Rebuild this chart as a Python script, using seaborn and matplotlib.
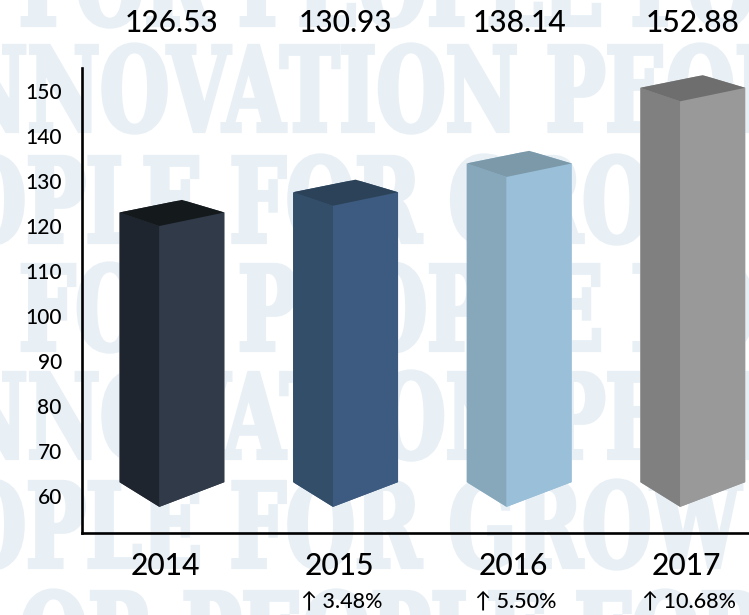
import pandas as pd
import matplotlib
matplotlib.use("Agg")
import matplotlib.pyplot as plt
import seaborn as sns
from matplotlib.patches import Polygon
from matplotlib.patheffects import AbstractPathEffect
from matplotlib.transforms import Affine2D

# values as printed above the bars, and bar heights
years = ["2014", "2015", "2016", "2017"]
printed_values = [126.53, 130.93, 138.14, 152.88]
bar_heights = [125.7, 130.2, 136.6, 153.4]
growth_labels = ["", "↑ 3.48%", "↑ 5.50%", "↑ 10.68%"]
y_ticks = [60, 70, 80, 90, 100, 110, 120, 130, 140, 150]

right_colors = ["#313a48", "#3d5b80", "#99bfd9", "#999999"]
left_colors = ["#1e252e", "#334e69", "#87a8bb", "#808080"]
top_colors = ["#14191c", "#2c4258", "#7b99a8", "#6e6e6e"]

watermark_rows = ["FOR PEOPLE FOR", "NNOVATION PEOPLE", "OPLE FOR GROW", "FOR PEOPLE FOR",
                  "NNOVATION PEOPLE", "OPLE FOR GROW", "OR PEOPLE FOR"]
watermark_x = [19, -45, -43, 19, -45, -43, 19]
watermark_base = [25, 131, 242, 350, 458, 567, 677]

W, H = 749, 615
FONT = ["Lato", "DejaVu Sans"]
LABEL_WEIGHT = "medium"


class Squeeze(AbstractPathEffect):
    # narrows and thickens a text, no condensed slab font is installed
    def __init__(self, sx, stroke):
        super().__init__()
        self.sx = sx
        self.stroke = stroke

    def draw_path(self, renderer, gc, tpath, affine, rgbFace=None):
        gc0 = renderer.new_gc()
        gc0.copy_properties(gc)
        gc0.set_foreground(rgbFace)
        gc0.set_linewidth(self.stroke)
        gc0.set_joinstyle("miter")
        renderer.draw_path(gc0, tpath, Affine2D().scale(self.sx, 1) + affine, rgbFace)
        gc0.restore()


sns.set_theme(style="white")
plt.rcParams["font.family"] = FONT

fig = plt.figure(figsize=(W / 100, H / 100), dpi=100)
ax = fig.add_axes([82 / W, (H - 533) / H, (W - 82) / W, 465 / H])
ax.patch.set_alpha(0)

for row, x0, base in zip(watermark_rows, watermark_x, watermark_base):
    t = fig.text(x0 / W, (H - base) / H, row, family="DejaVu Serif", weight="bold", fontsize=84,
                 color="#e8f0f6", ha="left", va="baseline", zorder=-5)
    t.set_path_effects([Squeeze(0.68, 3.0)])

df = pd.DataFrame({"year": years, "height": bar_heights})
sns.barplot(data=df, x="year", y="height", hue="year", palette=right_colors, legend=False,
            width=0.605, saturation=1, ax=ax)

ax.set_xlim(-0.518, 3.324)
ax.set_ylim(51.7, 155)

# turn each flat bar into a box: clip it to the silhouette, add left face and lid
for i, bar in enumerate(ax.patches):
    x_l = bar.get_x()
    x_r = x_l + bar.get_width()
    x_f = x_l + 0.23
    x_b = x_l + 0.36
    top = bar.get_height()
    side = top - 2.8
    front = top - 5.8
    foot_side, foot_front = 63.0, 57.5
    shape = Polygon([(x_l, foot_side), (x_f, foot_front), (x_r, foot_side), (x_r, side),
                     (x_b, top), (x_l, side)], transform=ax.transData)
    bar.set_clip_path(shape)
    ax.fill([x_l, x_f, x_f, x_l], [foot_side, foot_front, front, side], color=left_colors[i], lw=0, zorder=3)
    ax.fill([x_f, x_r, x_r, x_f], [foot_front, foot_side, side, front], color=right_colors[i], lw=0, zorder=3)
    ax.fill([x_l, x_b, x_r, x_f], [side, top, side, front], color=top_colors[i], lw=0, zorder=3)

ax.set_xticks([])
ax.set_yticks(y_ticks)
ax.tick_params(axis="y", length=0, pad=14.5, labelsize=15, labelcolor="black")
for label in ax.get_yticklabels():
    label.set_fontweight(LABEL_WEIGHT)
ax.set_xlabel("")
ax.set_ylabel("")
for name in ["top", "right"]:
    ax.spines[name].set_visible(False)
for name in ["left", "bottom"]:
    ax.spines[name].set_color("black")
    ax.spines[name].set_linewidth(1.9)

tr = ax.get_xaxis_transform()
for i, year in enumerate(years):
    ax.text(i - 0.0, 1.097, f"{printed_values[i]:.2f}", transform=tr, ha="center", va="center",
            fontsize=21.5, weight=LABEL_WEIGHT, color="black", clip_on=False)
    ax.text(i - 0.035, -0.071, year, transform=tr, ha="center", va="center",
            fontsize=21.5, weight=LABEL_WEIGHT, color="black", clip_on=False)
    if growth_labels[i]:
        ax.text(i - 0.02, -0.148, growth_labels[i], transform=tr, ha="center", va="center",
                fontsize=15.5, weight=LABEL_WEIGHT, color="black", clip_on=False)

fig.savefig("out.png", dpi=100)
